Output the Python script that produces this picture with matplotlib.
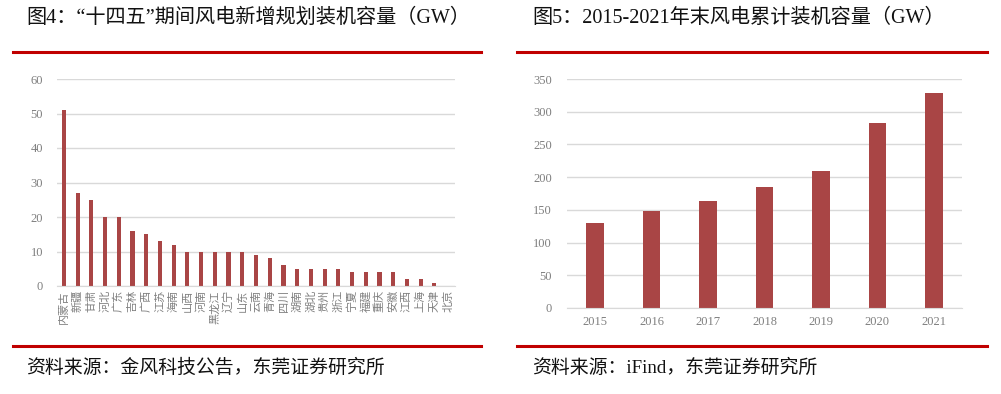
import matplotlib
matplotlib.use("Agg")
import matplotlib.pyplot as plt
import numpy as np

# 图4 数据
provinces = ["内蒙古", "新疆", "甘肃", "河北", "广东", "吉林", "广西", "江苏", "海南",
             "山西", "河南", "黑龙江", "辽宁", "山东", "云南", "青海", "四川", "湖南",
             "湖北", "贵州", "浙江", "宁夏", "福建", "重庆", "安徽", "江西", "上海",
             "天津", "北京"]
new_capacity = [51, 27, 25, 20, 20, 16, 15, 13, 12, 10, 10, 10, 10, 10, 9, 8, 6, 5,
                5, 5, 5, 4, 4, 4, 4, 2, 2, 1, 0]
left_yticks = [0, 10, 20, 30, 40, 50, 60]

# 图5 数据
years = ["2015", "2016", "2017", "2018", "2019", "2020", "2021"]
total_capacity = [130.5, 147.7, 163.5, 184.4, 209.9, 282.2, 328.6]
right_yticks = [0, 50, 100, 150, 200, 250, 300, 350]

title_left = "图4：“十四五”期间风电新增规划装机容量（GW）"
title_right = "图5：2015-2021年末风电累计装机容量（GW）"
source_left = "资料来源：金风科技公告，东莞证券研究所"
source_right = "资料来源：iFind，东莞证券研究所"

bar_color = "#A94545"
grid_color = "#D9D9D9"
tick_color = "#7F7F7F"
red = "#C00000"
num_font = ["Liberation Serif", "Noto Sans CJK SC"]
cjk_font = ["Noto Sans CJK SC", "DejaVu Sans"]
head_font = ["Liberation Serif", "Noto Sans CJK SC"]

W, H = 1001, 394
fig = plt.figure(figsize=(W / 100, H / 100), dpi=100)


def fx(px):
    return px / W


def fy(py):
    return 1 - py / H


def style_axes(ax):
    for s in ax.spines.values():
        s.set_visible(False)
    ax.spines["bottom"].set_visible(True)
    ax.spines["bottom"].set_color(grid_color)
    ax.grid(axis="y", color=grid_color, linewidth=1)
    ax.set_axisbelow(True)
    ax.tick_params(length=0, colors=tick_color)
    for lab in ax.get_yticklabels():
        lab.set_family(num_font)
        lab.set_fontsize(9)


# 左图
ax1 = fig.add_axes([fx(57), fy(286), fx(455 - 57), fy(79) - fy(286)])
x1 = np.arange(len(provinces))
ax1.bar(x1, new_capacity, width=0.3, color=bar_color)
ax1.set_xlim(-0.5, len(provinces) - 0.5)
ax1.set_ylim(0, 60)
ax1.set_yticks(left_yticks)
ax1.set_xticks(x1)
ax1.set_xticklabels(provinces, rotation=90, family=cjk_font, fontsize=8,
                    color=tick_color, va="top", ha="center")
ax1.tick_params(axis="x", pad=3)
ax1.tick_params(axis="y", pad=10)
style_axes(ax1)

# 右图
ax2 = fig.add_axes([fx(567), fy(308), fx(962 - 567), fy(79) - fy(308)])
x2 = np.arange(len(years))
ax2.bar(x2, total_capacity, width=0.31, color=bar_color)
ax2.set_xlim(-0.5, len(years) - 0.5)
ax2.set_ylim(0, 350)
ax2.set_yticks(right_yticks)
ax2.set_xticks(x2)
ax2.set_xticklabels(years, family=num_font, fontsize=9, color=tick_color)
ax2.tick_params(axis="x", pad=6)
ax2.tick_params(axis="y", pad=11)
style_axes(ax2)

# 标题、红线、来源
fig.text(fx(26), fy(18), title_left, family=head_font, fontsize=14.5,
         va="center", ha="left", color="#111111", weight="medium")
fig.text(fx(532), fy(18), title_right, family=head_font, fontsize=14.5,
         va="center", ha="left", color="#111111", weight="medium")
for x0, x1e in [(13, 481), (517, 987)]:
    for yy in (52, 346):
        fig.add_artist(plt.Line2D([fx(x0), fx(x1e)], [fy(yy), fy(yy)],
                                  color=red, linewidth=2.2))
fig.text(fx(26), fy(368), source_left, family=head_font, fontsize=13.6,
         va="center", ha="left", color="#111111", weight="medium")
fig.text(fx(532), fy(368), source_right, family=head_font, fontsize=13.6,
         va="center", ha="left", color="#111111", weight="medium")

fig.savefig("out.png", dpi=100)
